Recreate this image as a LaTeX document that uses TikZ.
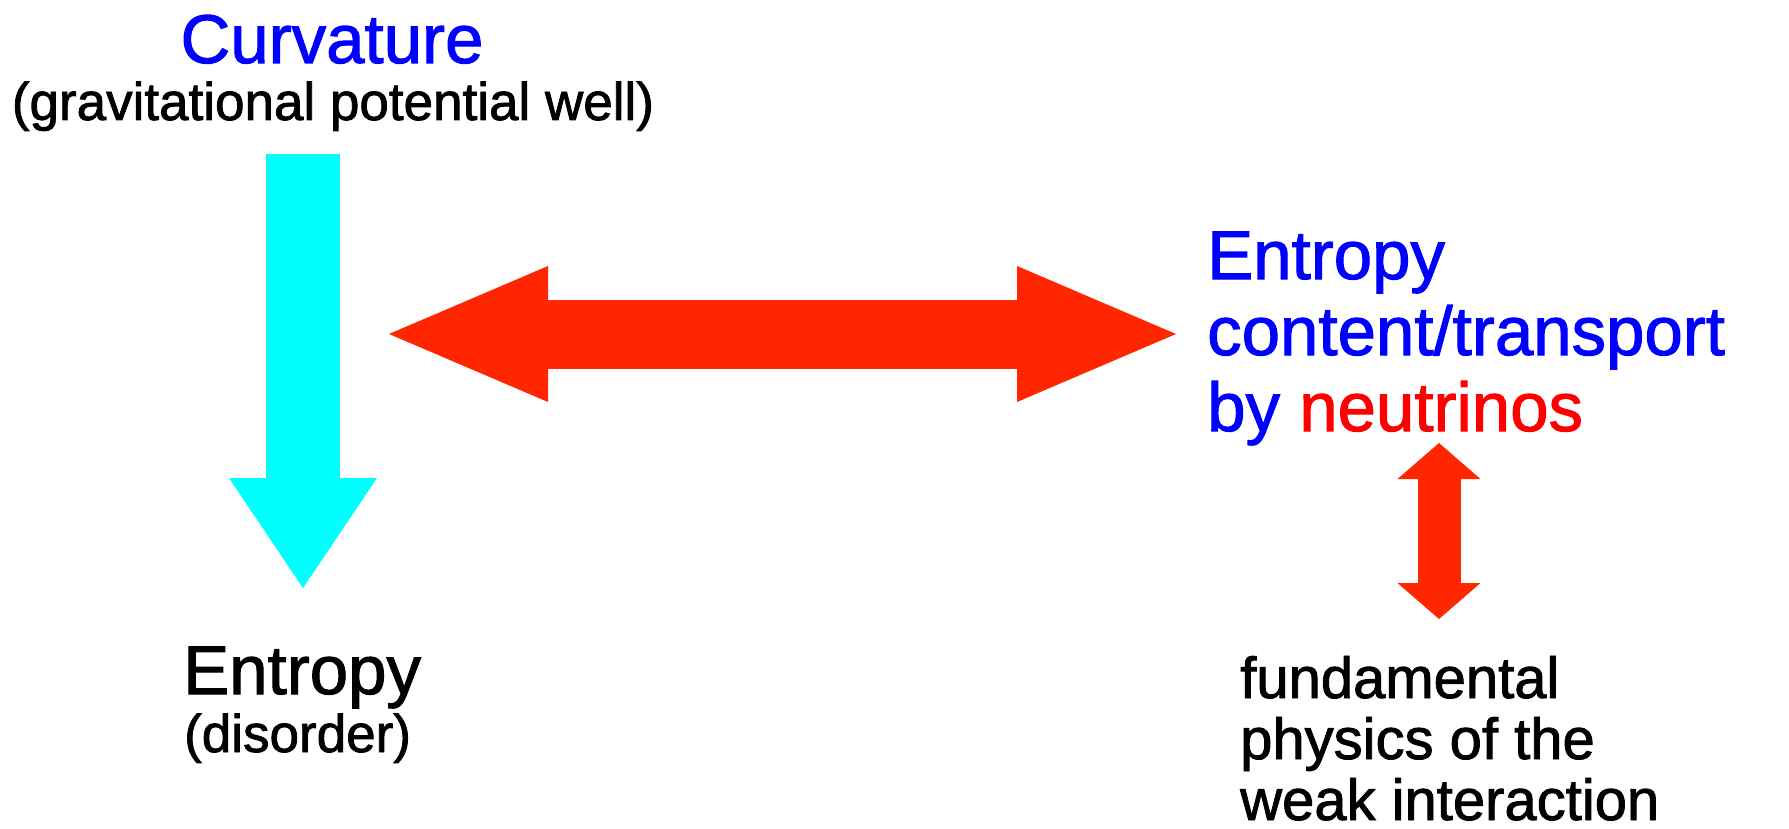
\documentclass[tikz,border=0pt]{standalone}
\usepackage{fontspec}
\setmainfont{Liberation Sans}[FakeBold=1.5]
\usepackage{tikz}
\usetikzlibrary{arrows.meta}
\definecolor{textblue}{RGB}{0,0,255}
\definecolor{textred}{RGB}{255,0,0}
\definecolor{blockred}{RGB}{255,38,0}
\definecolor{wellcyan}{RGB}{0,255,255}
\tikzset{
	bigtext/.style   = {font=\fontsize{69}{76}\selectfont, inner sep=0pt},
	smalltext/.style = {font=\fontsize{53}{60}\selectfont, inner sep=0pt},
	weaktext/.style  = {font=\fontsize{58}{61}\selectfont, inner sep=0pt},
	cyanarrow/.style = {draw=wellcyan, line width=74pt,
		-{Triangle[length=110pt, width=148pt, line width=0pt]}},
	redarrow/.style  = {draw=blockred, line width=69pt,
		{Triangle[length=159pt, width=136pt, line width=0pt]}-{Triangle[length=159pt, width=136pt, line width=0pt]}},
	nuarrow/.style   = {draw=blockred, line width=43pt,
		{Triangle[length=36pt, width=83pt, line width=0pt]}-{Triangle[length=36pt, width=83pt, line width=0pt]}}
}
\begin{document}
\begin{tikzpicture}[x=1pt, y=-1pt]
	\useasboundingbox (0,0) rectangle (1789,829);
	\draw
	node at (332,63)[bigtext, text=textblue, anchor=base] (curv) {Curvature}
	node at (333,120)[smalltext, anchor=base] (well) {(gravitational potential well)}
	node at (183,694)[bigtext, anchor=base west] (ent) {Entropy}
	node at (184,752)[smalltext, anchor=base west] (dis) {(disorder)}
	node at (1207,431)[bigtext, text=textblue, anchor=base west, align=left] (nu)
		{Entropy\\content/transport\\by \textcolor{textred}{neutrinos}}
	node at (1240,820)[weaktext, anchor=base west, align=left] (weak)
		{fundamental\\physics of the\\weak interaction}
	;
	
	\coordinate (wtop) at (303,154);
	\coordinate (wbot) at (303,588);
	\coordinate (rl) at (389,334);
	\coordinate (rr) at (1176,334);
	\coordinate (ntop) at (1439,443);
	\coordinate (nbot) at (1439,619);
	
	\draw[cyanarrow] (wtop) -- (wbot);
	\draw[redarrow] (rl) -- (rr);
	\draw[nuarrow] (ntop) -- (nbot);
\end{tikzpicture}
\end{document}
